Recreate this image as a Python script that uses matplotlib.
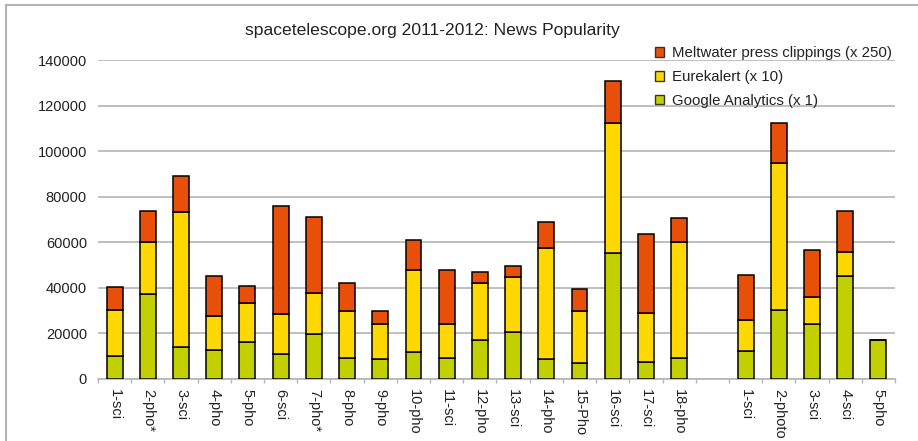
import matplotlib.pyplot as plt
import numpy as np
from matplotlib.patches import Patch
from matplotlib.lines import Line2D

plt.rcParams['font.family'] = ['Liberation Sans', 'DejaVu Sans']

# releases: 18 in 2011, a gap, then 5 in 2012
labels_2011 = ['1-sci', '2-pho*', '3-sci', '4-pho', '5-pho', '6-sci', '7-pho*', '8-pho',
               '9-pho', '10-pho', '11-sci', '12-pho', '13-sci', '14-pho', '15-Pho',
               '16-sci', '17-sci', '18-pho']
labels_2012 = ['1-sci', '2-photo', '3-sci', '4-sci', '5-pho']

google = [10200, 37200, 14000, 12900, 16100, 11100, 19900, 9200, 8600, 11800, 9200, 17300,
          20500, 8600, 6900, 55200, 7500, 9200,
          12400, 30400, 24300, 45300, 17300]
eurekalert = [20100, 22800, 59200, 14900, 17300, 17400, 17800, 20500, 15500, 35900, 15100, 24800,
              24100, 49000, 22800, 57000, 21600, 50900,
              13600, 64500, 11700, 10400, 0]
meltwater = [9900, 13700, 16000, 17400, 7400, 47600, 33500, 12400, 5600, 13200, 23400, 5000,
             5000, 11400, 9900, 18700, 34700, 10600,
             19800, 17300, 20500, 18000, 0]

c_red = '#e8500a'
c_yel = '#fed800'
c_grn = '#c3d000'
c_grid = '#b4b4b4'

fig = plt.figure(figsize=(9.18, 4.41), dpi=100)
ax = fig.add_axes([98 / 918, 62 / 441, 797 / 918, 319 / 441])

labels = labels_2011 + [''] + labels_2012
x = np.array(list(range(18)) + list(range(19, 24)))
g = np.array(google)
e = np.array(eurekalert)
m = np.array(meltwater)

w = 0.48
kw = dict(width=w, edgecolor='black', linewidth=1.1, zorder=3)
ax.bar(x, g, color=c_grn, **kw)
ax.bar(x, e, bottom=g, color=c_yel, **kw)
ax.bar(x[m > 0], m[m > 0], bottom=(g + e)[m > 0], color=c_red, **kw)

ax.set_xlim(-0.5, 23.5)
ax.set_ylim(0, 140000)
ax.set_yticks(np.arange(0, 140001, 20000))
ax.yaxis.grid(True, color=c_grid, linewidth=1.2, zorder=0)
ax.tick_params(axis='y', length=0, pad=8, labelsize=10.5, labelcolor='#222222')

ax.set_xticks(np.arange(24))
ax.set_xticklabels(labels, rotation=270, fontsize=10.5, color='#222222')
ax.set_xticks(np.arange(-0.5, 24, 1), minor=True)
ax.tick_params(axis='x', which='major', length=0, pad=7)
ax.tick_params(axis='x', which='minor', length=3, color=c_grid, width=1)

for s in ['top', 'right', 'left']:
    ax.spines[s].set_visible(False)
ax.spines['bottom'].set_color(c_grid)
ax.spines['bottom'].set_linewidth(1.2)

fig.text(432 / 918, 1 - 31 / 441, 'spacetelescope.org 2011-2012: News Popularity',
         ha='center', va='center', fontsize=12.6, color='#222222')

handles = [Patch(facecolor=c_red, edgecolor='#333333', linewidth=1),
           Patch(facecolor=c_yel, edgecolor='#333333', linewidth=1),
           Patch(facecolor=c_grn, edgecolor='#333333', linewidth=1)]
names = ['Meltwater press clippings (x 250)', 'Eurekalert (x 10)', 'Google Analytics (x 1)']
fig.legend(handles, names, loc='upper left', bbox_to_anchor=(647 / 918, 1 - 39 / 441),
           frameon=False, fontsize=10.8, handlelength=0.6, handleheight=0.6,
           handletextpad=0.55, labelspacing=0.65, borderpad=0, labelcolor='#222222')

# outer frame (top and left edges)
fig.add_artist(Line2D([6 / 918, 6 / 918], [0, 1 - 5 / 441], transform=fig.transFigure,
                      color=c_grid, linewidth=1.5))
fig.add_artist(Line2D([6 / 918, 1], [1 - 5 / 441, 1 - 5 / 441], transform=fig.transFigure,
                      color=c_grid, linewidth=1.5))

fig.savefig('out.png', dpi=100)
